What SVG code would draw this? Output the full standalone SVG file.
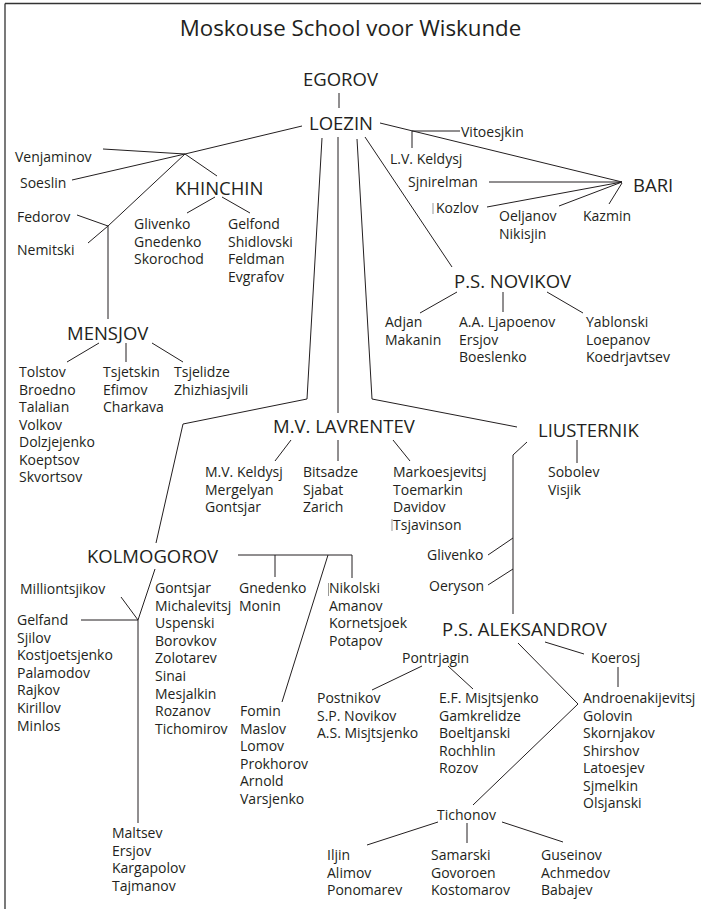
<svg xmlns="http://www.w3.org/2000/svg" width="701" height="909" viewBox="0 0 701 909">
<style>
text{font-family:"Open Sans","Noto Sans","Liberation Sans",sans-serif;fill:#231f20}
.n{font-size:14px}
.b{font-size:18.5px}
.t{font-size:22.3px}
.c path{fill:none;stroke:#231f20;stroke-width:1}
.f{stroke:#999;stroke-width:1}
</style>
<rect width="701" height="909" fill="#fff"/>
<path d="M5,3.5 H701 M5,3.5 V909" fill="none" stroke="#333" stroke-width="1.3"/>
<text class="t" x="350.5" y="36" text-anchor="middle">Moskouse School voor Wiskunde</text>
<g class="c" id="connectors">
<path d="M339,93 V108"/>
<path d="M302,126 L185,154"/>
<path d="M103,149 L185,154"/>
<path d="M72,180 L185,154"/>
<path d="M185,154 L217,176"/>
<path d="M185,154 L108,226"/>
<path d="M77,215 L108,226"/>
<path d="M88,243 L108,226"/>
<path d="M108,226 V319"/>
<path d="M215,197 L187,213"/>
<path d="M222,197 L250,213"/>
<path d="M99,343 L67,362"/>
<path d="M126,343 V362"/>
<path d="M152,343 L183,362"/>
<path d="M322,138 L307,399 L183,424 L156,543"/>
<path d="M338,137 V413"/>
<path d="M357,139 L372,399 L517,427"/>
<path d="M365,137 L452,267"/>
<path d="M380,123 L622,182"/>
<path d="M412,131 H460"/>
<path d="M412,131 V148"/>
<path d="M489,182 H622"/>
<path d="M487,207 L622,182"/>
<path d="M559,206 L622,182"/>
<path d="M609,204 L622,183"/>
<path d="M457,292 L420,313"/>
<path d="M503,292 V312"/>
<path d="M547,292 L583,313"/>
<path d="M291,440 L275,461"/>
<path d="M338,440 V461"/>
<path d="M393,440 L410,461"/>
<path d="M577,440 V463"/>
<path d="M527,442 L513,455 V614"/>
<path d="M488,555 L513,538"/>
<path d="M488,585 L513,569"/>
<path d="M238,555 H352"/>
<path d="M275,555 V577"/>
<path d="M352,555 V578"/>
<path d="M328,555 L282,702"/>
<path d="M155,569 L138,620 V823"/>
<path d="M121,597 L138,620"/>
<path d="M81,620 H138"/>
<path d="M545,642 L584,654"/>
<path d="M618,667 V687"/>
<path d="M518,643 L578,704 L473,805"/>
<path d="M422,666 L372,690"/>
<path d="M448,666 L473,689"/>
<path d="M438,822 L367,845"/>
<path d="M467,823 V843"/>
<path d="M502,822 L563,842"/>
</g>
<g id="marks">
<path class="f" d="M433,203 V214 M328.5,583 V596 M392,519 V531"/>
</g>
<g id="egorov"><text class="b" x="303" y="86">EGOROV</text></g>
<g id="loezin"><text class="b" x="309" y="130">LOEZIN</text></g>
<g id="venjaminov"><text class="n" x="15" y="162">Venjaminov</text></g>
<g id="soeslin"><text class="n" x="20" y="188">Soeslin</text></g>
<g id="khinchin"><text class="b" x="175" y="195">KHINCHIN</text></g>
<g id="khinchin-a"><text class="n" x="134" y="229">Glivenko<tspan x="134" dy="17.5">Gnedenko</tspan><tspan x="134" dy="17.5">Skorochod</tspan></text></g>
<g id="khinchin-b"><text class="n" x="228" y="229">Gelfond<tspan x="228" dy="17.5">Shidlovski</tspan><tspan x="228" dy="17.5">Feldman</tspan><tspan x="228" dy="17.5">Evgrafov</tspan></text></g>
<g id="fedorov"><text class="n" x="17" y="222">Fedorov</text></g>
<g id="nemitski"><text class="n" x="17" y="255">Nemitski</text></g>
<g id="mensjov"><text class="b" x="67" y="340">MENSJOV</text></g>
<g id="mensjov-a"><text class="n" x="19" y="377">Tolstov<tspan x="19" dy="17.5">Broedno</tspan><tspan x="19" dy="17.5">Talalian</tspan><tspan x="19" dy="17.5">Volkov</tspan><tspan x="19" dy="17.5">Dolzjejenko</tspan><tspan x="19" dy="17.5">Koeptsov</tspan><tspan x="19" dy="17.5">Skvortsov</tspan></text></g>
<g id="mensjov-b"><text class="n" x="103" y="377">Tsjetskin<tspan x="103" dy="17.5">Efimov</tspan><tspan x="103" dy="17.5">Charkava</tspan></text></g>
<g id="mensjov-c"><text class="n" x="174" y="377">Tsjelidze<tspan x="174" dy="17.5">Zhizhiasjvili</tspan></text></g>
<g id="vitoesjkin"><text class="n" x="461" y="137">Vitoesjkin</text></g>
<g id="lv-keldysj"><text class="n" x="390" y="164">L.V. Keldysj</text></g>
<g id="sjnirelman"><text class="n" x="408" y="187">Sjnirelman</text></g>
<g id="bari"><text class="b" x="633" y="192">BARI</text></g>
<g id="kozlov"><text class="n" x="436" y="213">Kozlov</text></g>
<g id="oeljanov"><text class="n" x="499" y="221">Oeljanov<tspan x="499" dy="17.5">Nikisjin</tspan></text></g>
<g id="kazmin"><text class="n" x="583" y="221">Kazmin</text></g>
<g id="novikov"><text class="b" x="454" y="288">P.S. NOVIKOV</text></g>
<g id="novikov-a"><text class="n" x="385" y="327">Adjan<tspan x="385" dy="17.5">Makanin</tspan></text></g>
<g id="novikov-b"><text class="n" x="459" y="327">A.A. Ljapoenov<tspan x="459" dy="17.5">Ersjov</tspan><tspan x="459" dy="17.5">Boeslenko</tspan></text></g>
<g id="novikov-c"><text class="n" x="586" y="327">Yablonski<tspan x="586" dy="17.5">Loepanov</tspan><tspan x="586" dy="17.5">Koedrjavtsev</tspan></text></g>
<g id="lavrentev"><text class="b" x="273" y="433">M.V. LAVRENTEV</text></g>
<g id="lavrentev-a"><text class="n" x="205" y="477">M.V. Keldysj<tspan x="205" dy="17.5">Mergelyan</tspan><tspan x="205" dy="17.5">Gontsjar</tspan></text></g>
<g id="lavrentev-b"><text class="n" x="303" y="477">Bitsadze<tspan x="303" dy="17.5">Sjabat</tspan><tspan x="303" dy="17.5">Zarich</tspan></text></g>
<g id="lavrentev-c"><text class="n" x="393" y="477">Markoesjevitsj<tspan x="393" dy="17.5">Toemarkin</tspan><tspan x="393" dy="17.5">Davidov</tspan><tspan x="393" dy="17.5">Tsjavinson</tspan></text></g>
<g id="liusternik"><text class="b" x="538" y="437">LIUSTERNIK</text></g>
<g id="sobolev"><text class="n" x="548" y="477">Sobolev<tspan x="548" dy="17.5">Visjik</tspan></text></g>
<g id="glivenko"><text class="n" x="427" y="560">Glivenko</text></g>
<g id="oeryson"><text class="n" x="429" y="591">Oeryson</text></g>
<g id="kolmogorov"><text class="b" x="87" y="563">KOLMOGOROV</text></g>
<g id="milliontsjikov"><text class="n" x="20" y="594">Milliontsjikov</text></g>
<g id="kolmogorov-a"><text class="n" x="17" y="625">Gelfand<tspan x="17" dy="17.6">Sjilov</tspan><tspan x="17" dy="17.6">Kostjoetsjenko</tspan><tspan x="17" dy="17.6">Palamodov</tspan><tspan x="17" dy="17.6">Rajkov</tspan><tspan x="17" dy="17.6">Kirillov</tspan><tspan x="17" dy="17.6">Minlos</tspan></text></g>
<g id="kolmogorov-b"><text class="n" x="155" y="593">Gontsjar<tspan x="155" dy="17.6">Michalevitsj</tspan><tspan x="155" dy="17.6">Uspenski</tspan><tspan x="155" dy="17.6">Borovkov</tspan><tspan x="155" dy="17.6">Zolotarev</tspan><tspan x="155" dy="17.6">Sinai</tspan><tspan x="155" dy="17.6">Mesjalkin</tspan><tspan x="155" dy="17.6">Rozanov</tspan><tspan x="155" dy="17.6">Tichomirov</tspan></text></g>
<g id="kolmogorov-c"><text class="n" x="239" y="593">Gnedenko<tspan x="239" dy="17.6">Monin</tspan></text></g>
<g id="kolmogorov-d"><text class="n" x="329" y="593">Nikolski<tspan x="329" dy="17.6">Amanov</tspan><tspan x="329" dy="17.6">Kornetsjoek</tspan><tspan x="329" dy="17.6">Potapov</tspan></text></g>
<g id="kolmogorov-e"><text class="n" x="240" y="716">Fomin<tspan x="240" dy="17.6">Maslov</tspan><tspan x="240" dy="17.6">Lomov</tspan><tspan x="240" dy="17.6">Prokhorov</tspan><tspan x="240" dy="17.6">Arnold</tspan><tspan x="240" dy="17.6">Varsjenko</tspan></text></g>
<g id="kolmogorov-f"><text class="n" x="112" y="838">Maltsev<tspan x="112" dy="17.6">Ersjov</tspan><tspan x="112" dy="17.6">Kargapolov</tspan><tspan x="112" dy="17.6">Tajmanov</tspan></text></g>
<g id="aleksandrov"><text class="b" x="442" y="636">P.S. ALEKSANDROV</text></g>
<g id="pontrjagin"><text class="n" x="402" y="663">Pontrjagin</text></g>
<g id="koerosj"><text class="n" x="591" y="663">Koerosj</text></g>
<g id="pontrjagin-a"><text class="n" x="317" y="703">Postnikov<tspan x="317" dy="17.5">S.P. Novikov</tspan><tspan x="317" dy="17.5">A.S. Misjtsjenko</tspan></text></g>
<g id="pontrjagin-b"><text class="n" x="439" y="703">E.F. Misjtsjenko<tspan x="439" dy="17.5">Gamkrelidze</tspan><tspan x="439" dy="17.5">Boeltjanski</tspan><tspan x="439" dy="17.5">Rochhlin</tspan><tspan x="439" dy="17.5">Rozov</tspan></text></g>
<g id="koerosj-a"><text class="n" x="583" y="703">Androenakijevitsj<tspan x="583" dy="17.5">Golovin</tspan><tspan x="583" dy="17.5">Skornjakov</tspan><tspan x="583" dy="17.5">Shirshov</tspan><tspan x="583" dy="17.5">Latoesjev</tspan><tspan x="583" dy="17.5">Sjmelkin</tspan><tspan x="583" dy="17.5">Olsjanski</tspan></text></g>
<g id="tichonov"><text class="n" x="437" y="820">Tichonov</text></g>
<g id="tichonov-a"><text class="n" x="327" y="860">Iljin<tspan x="327" dy="17.5">Alimov</tspan><tspan x="327" dy="17.5">Ponomarev</tspan></text></g>
<g id="tichonov-b"><text class="n" x="431" y="860">Samarski<tspan x="431" dy="17.5">Govoroen</tspan><tspan x="431" dy="17.5">Kostomarov</tspan></text></g>
<g id="tichonov-c"><text class="n" x="541" y="860">Guseinov<tspan x="541" dy="17.5">Achmedov</tspan><tspan x="541" dy="17.5">Babajev</tspan></text></g>
</svg>
